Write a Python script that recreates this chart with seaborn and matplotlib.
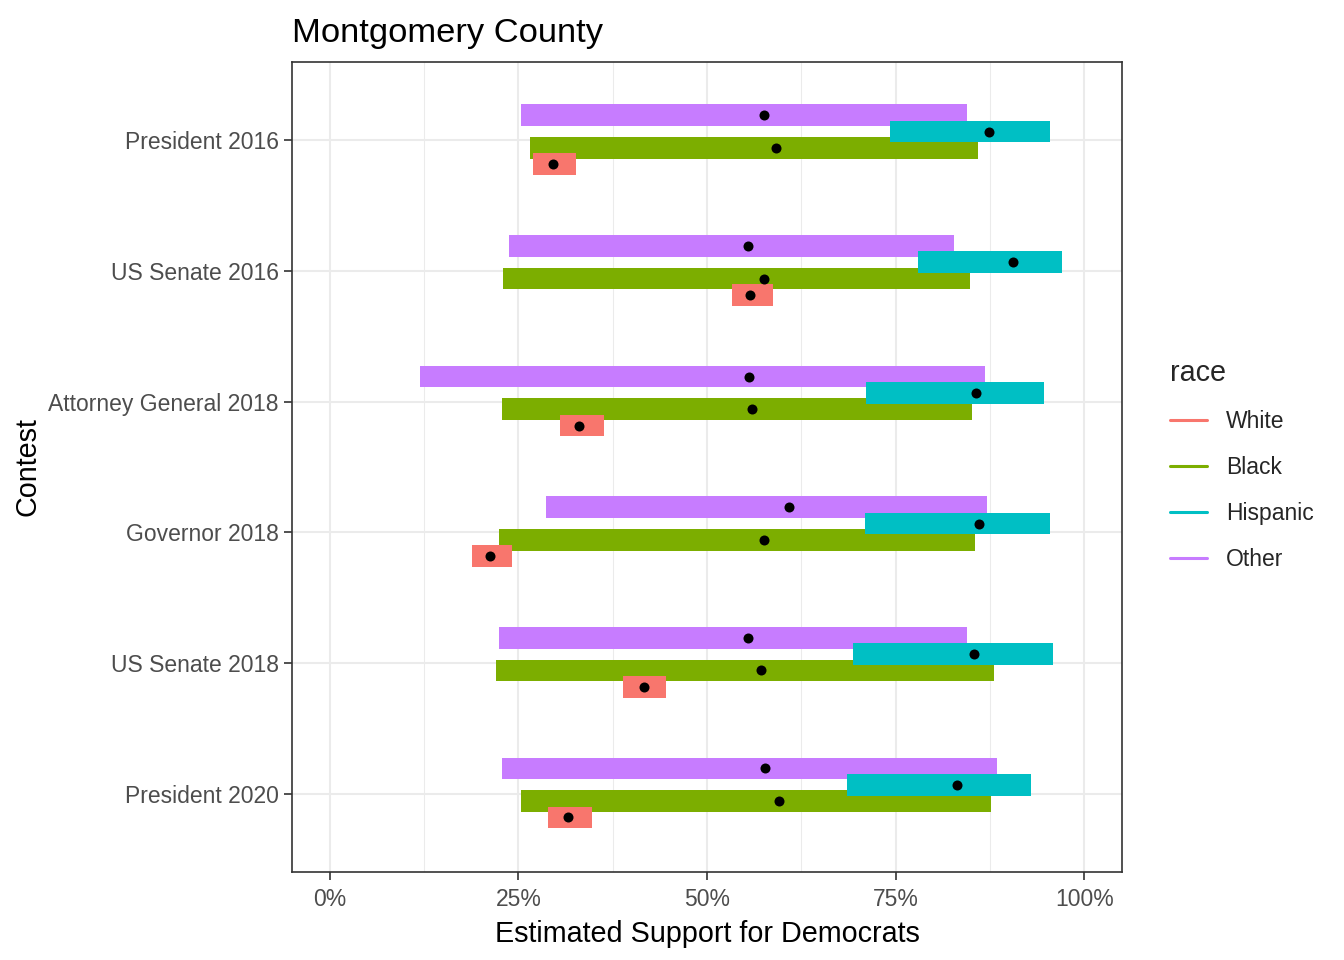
import matplotlib
matplotlib.use("Agg")
import matplotlib.pyplot as plt
from matplotlib.lines import Line2D
import numpy as np
import pandas as pd
import seaborn as sns

# data (percent) .....................................
contests = ["President 2016", "US Senate 2016", "Attorney General 2018",
            "Governor 2018", "US Senate 2018", "President 2020"]
races = ["White", "Black", "Hispanic", "Other"]
race_colors = ["#F8766D", "#7CAE00", "#00BFC4", "#C77CFF"]

white_lo = [26.9, 53.3, 30.5, 18.9, 38.9, 28.9]
white_est = [29.6, 55.7, 33.1, 21.3, 41.6, 31.6]
white_hi = [32.6, 58.7, 36.3, 24.2, 44.5, 34.7]

black_lo = [26.6, 23.0, 22.8, 22.4, 22.1, 25.4]
black_est = [59.1, 57.5, 56.0, 57.5, 57.1, 59.5]
black_hi = [85.9, 84.8, 85.1, 85.5, 88.0, 87.7]

hisp_lo = [74.3, 78.0, 71.1, 71.0, 69.4, 68.5]
hisp_est = [87.4, 90.5, 85.7, 86.0, 85.4, 83.1]
hisp_hi = [95.5, 97.1, 94.7, 95.5, 95.8, 93.0]

other_lo = [25.4, 23.7, 11.9, 28.7, 22.4, 22.8]
other_est = [57.5, 55.4, 55.5, 60.9, 55.4, 57.7]
other_hi = [84.4, 82.8, 86.8, 87.1, 84.5, 88.5]

# long table
rows = []
for race, lo, est, hi in zip(races,
                             [white_lo, black_lo, hisp_lo, other_lo],
                             [white_est, black_est, hisp_est, other_est],
                             [white_hi, black_hi, hisp_hi, other_hi]):
    for i, c in enumerate(contests):
        rows.append({"contest": c, "race": race, "lo": lo[i], "est": est[i], "hi": hi[i]})
df = pd.DataFrame(rows)

# dodge within each contest (Other on top, White at the bottom)
dodge = {"Other": -0.1925, "Hispanic": -0.0675, "Black": 0.0575, "White": 0.1825}
df["ypos"] = df["contest"].map({c: i for i, c in enumerate(contests)}) + df["race"].map(dodge)

# style
sns.set_theme(style="white")
plt.rcParams["font.family"] = ["Liberation Sans", "DejaVu Sans"]

fig = plt.figure(figsize=(13.44, 9.6), dpi=100, facecolor="white")
ax = fig.add_axes([292 / 1344, 1 - 872 / 960, 830 / 1344, 810 / 960])

# ranges, drawn in the stacking order seen in the reference
draw_order = ["Other", "Black", "Hispanic", "White"]
for race in draw_order:
    sub = df[df.race == race]
    ax.barh(sub.ypos, sub.hi - sub.lo, left=sub.lo, height=0.166,
            color=race_colors[races.index(race)], linewidth=0, zorder=2)

# point estimates
sns.scatterplot(data=df, x="est", y="ypos", color="black", s=52,
                linewidth=0, ax=ax, zorder=4, legend=False)

# axes
ax.set_xlim(-5, 105)
ax.set_ylim(5.6, -0.6)
ax.set_xticks([0, 25, 50, 75, 100])
ax.set_xticklabels([f"{v}%" for v in [0, 25, 50, 75, 100]])
ax.set_xticks([12.5, 37.5, 62.5, 87.5], minor=True)
ax.set_yticks(range(len(contests)))
ax.set_yticklabels(contests)

ax.grid(which="major", color="#EBEBEB", linewidth=1.45)
ax.grid(which="minor", axis="x", color="#EBEBEB", linewidth=0.75)
ax.set_axisbelow(True)

for s in ax.spines.values():
    s.set_visible(True)
    s.set_color("#333333")
    s.set_linewidth(1.2)

ax.tick_params(axis="both", which="major", colors="#333333", direction="out",
               length=5.5, width=1.2, labelsize=16.5, labelcolor="#4D4D4D", pad=4)
ax.tick_params(axis="x", which="major", pad=6)
ax.tick_params(axis="both", which="minor", length=0)
ax.xaxis.set_ticks_position("bottom")
ax.yaxis.set_ticks_position("left")

ax.set_xlabel("Estimated Support for Democrats", fontsize=20.7, color="black", labelpad=6.5)
ax.set_ylabel("Contest", fontsize=20.7, color="black", labelpad=5)

fig.text(292 / 1344, 1 - 42 / 960, "Montgomery County", fontsize=24.8,
         ha="left", va="baseline", color="black")

# legend
handles = [Line2D([0], [0], color=c, lw=2.2) for c in race_colors]
leg = fig.legend(handles, races, title="race", loc="center left",
                 bbox_to_anchor=(1170 / 1344, 1 - 465 / 960), frameon=False,
                 fontsize=16.5, title_fontsize=20.7, handlelength=1.6,
                 handletextpad=0.85, labelspacing=1.0, alignment="left",
                 borderpad=0, borderaxespad=0)

fig.savefig("out.png", dpi=100, facecolor="white")
